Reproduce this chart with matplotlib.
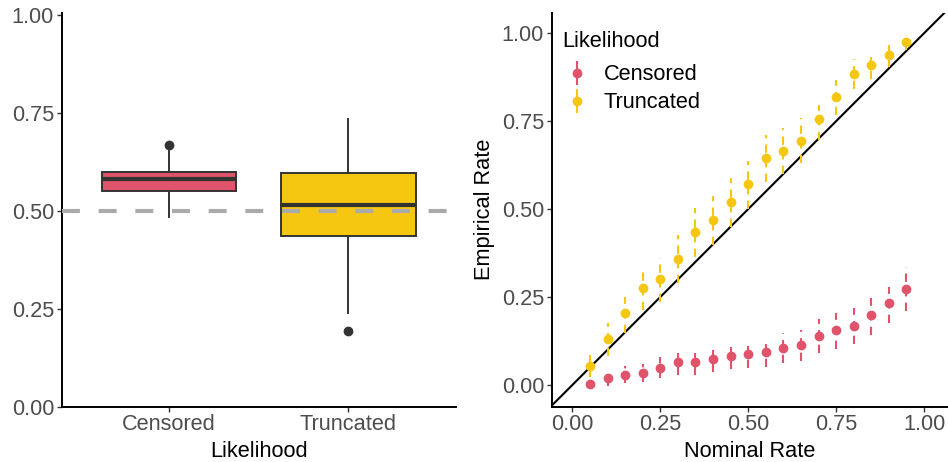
import matplotlib
matplotlib.use('Agg')
import matplotlib.pyplot as plt
from matplotlib.lines import Line2D
import numpy as np


# Colours (R4 palette)
RED = '#DF536B'
YELLOW = '#F5C710'
GREY20 = '#333333'
GREY30 = '#4D4D4D'
FS = 15.7

plt.rcParams['font.family'] = ['Liberation Sans', 'DejaVu Sans']
plt.rcParams['font.size'] = FS

# Data
likelihoods = ['Censored', 'Truncated']
box_med = [0.581, 0.515]
box_q1 = [0.551, 0.437]
box_q3 = [0.598, 0.596]
box_lo = [0.485, 0.238]
box_hi = [0.660, 0.734]
box_fliers = [[0.667], [0.193]]

nominal = [0.05, 0.10, 0.15, 0.20, 0.25, 0.30, 0.35, 0.40, 0.45, 0.50,
           0.55, 0.60, 0.65, 0.70, 0.75, 0.80, 0.85, 0.90, 0.95]
trunc_mid = [0.054, 0.130, 0.204, 0.275, 0.300, 0.359, 0.434, 0.469, 0.519, 0.570,
             0.645, 0.664, 0.695, 0.755, 0.819, 0.884, 0.909, 0.939, 0.974]
trunc_lo = [0.024, 0.082, 0.147, 0.213, 0.237, 0.291, 0.365, 0.398, 0.450, 0.501,
            0.578, 0.600, 0.630, 0.697, 0.768, 0.841, 0.869, 0.905, 0.953]
trunc_hi = [0.084, 0.177, 0.251, 0.335, 0.362, 0.426, 0.502, 0.537, 0.589, 0.637,
            0.711, 0.730, 0.758, 0.796, 0.867, 0.927, 0.931, 0.967, 0.995]
cens_mid = [0.004, 0.019, 0.028, 0.033, 0.049, 0.064, 0.064, 0.074, 0.083, 0.089,
            0.094, 0.104, 0.114, 0.139, 0.155, 0.169, 0.199, 0.234, 0.274]
cens_lo = [0.000, -0.002, 0.005, 0.009, 0.019, 0.028, 0.028, 0.038, 0.045, 0.049,
           0.052, 0.062, 0.069, 0.092, 0.102, 0.116, 0.142, 0.175, 0.211]
cens_hi = [0.010, 0.038, 0.054, 0.060, 0.081, 0.092, 0.092, 0.100, 0.109, 0.112,
           0.116, 0.147, 0.156, 0.187, 0.204, 0.218, 0.246, 0.278, 0.335]


def style_axes(ax):
    for side in ['top', 'right']:
        ax.spines[side].set_visible(False)
    for side in ['left', 'bottom']:
        ax.spines[side].set_linewidth(1.4)
        ax.spines[side].set_color('black')
    ax.tick_params(length=3.5, width=1.0, color=GREY20, labelcolor=GREY30,
                   labelsize=FS, pad=2)


fig = plt.figure(figsize=(9.48, 4.62), dpi=100)

# Left panel: boxplot
ax1 = fig.add_axes([0.0651, 0.1197, 0.4159, 0.8515])
stats = []
for i, name in enumerate(likelihoods):
    stats.append({'label': name, 'med': box_med[i], 'q1': box_q1[i], 'q3': box_q3[i],
                  'whislo': box_lo[i], 'whishi': box_hi[i], 'fliers': box_fliers[i]})
bp = ax1.bxp(stats, positions=[1, 2], widths=0.75, patch_artist=True, showcaps=False,
             boxprops=dict(edgecolor=GREY20, linewidth=1.4),
             medianprops=dict(color=GREY20, linewidth=3),
             whiskerprops=dict(color=GREY20, linewidth=1.4),
             flierprops=dict(marker='o', markerfacecolor=GREY20, markeredgecolor=GREY20,
                             markersize=6))
for patch, c in zip(bp['boxes'], [RED, YELLOW]):
    patch.set_facecolor(c)
ax1.axhline(0.5, color='#AAAAAA', linewidth=3, linestyle=(0, (4.3, 4.5)), zorder=5)
ax1.set_xlim(0.4, 2.6)
ax1.set_ylim(0, 1.0043)
ax1.set_yticks([0, 0.25, 0.5, 0.75, 1.0])
ax1.set_yticklabels(['0.00', '0.25', '0.50', '0.75', '1.00'])
ax1.set_xlabel('Likelihood', fontsize=FS, labelpad=4)
style_axes(ax1)

# Right panel: calibration
ax2 = fig.add_axes([0.582, 0.1197, 0.417, 0.853])
ax2.set_xlim(-0.0586, 1.0654)
ax2.set_ylim(-0.0617, 1.0586)
ax2.plot([-0.1, 1.2], [-0.1, 1.2], color='black', linewidth=1.5, zorder=2)
for mid, lo, hi, c in [(cens_mid, cens_lo, cens_hi, RED),
                       (trunc_mid, trunc_lo, trunc_hi, YELLOW)]:
    ax2.vlines(nominal, lo, hi, colors=c, linewidth=1.5, linestyles=(0, (4, 3)), zorder=3)
    ax2.plot(nominal, mid, 'o', color=c, markersize=6, zorder=4)
ticks = [0, 0.25, 0.5, 0.75, 1.0]
tick_labels = ['0.00', '0.25', '0.50', '0.75', '1.00']
ax2.set_xticks(ticks)
ax2.set_xticklabels(tick_labels)
ax2.set_yticks(ticks)
ax2.set_yticklabels(tick_labels)
ax2.set_xlabel('Nominal Rate', fontsize=FS, labelpad=4)
ax2.set_ylabel('Empirical Rate', fontsize=FS, labelpad=5)
style_axes(ax2)

handles = []
for c in [RED, YELLOW]:
    bar = Line2D([], [], marker='|', markersize=17, markeredgewidth=1.5, color=c, ls='none')
    dot = Line2D([], [], marker='o', markersize=6, color=c, ls='none')
    handles.append((bar, dot))
leg = ax2.legend(handles, likelihoods, title='Likelihood', loc='upper left',
                 bbox_to_anchor=(562 / 948, 1 - 31 / 462), bbox_transform=fig.transFigure,
                 frameon=False, fontsize=FS, title_fontsize=FS, alignment='left',
                 borderpad=0, borderaxespad=0, handlelength=1.4, handletextpad=0.5,
                 labelspacing=0.31)
leg._legend_box.sep = 9

fig.savefig('out.png', dpi=100)
